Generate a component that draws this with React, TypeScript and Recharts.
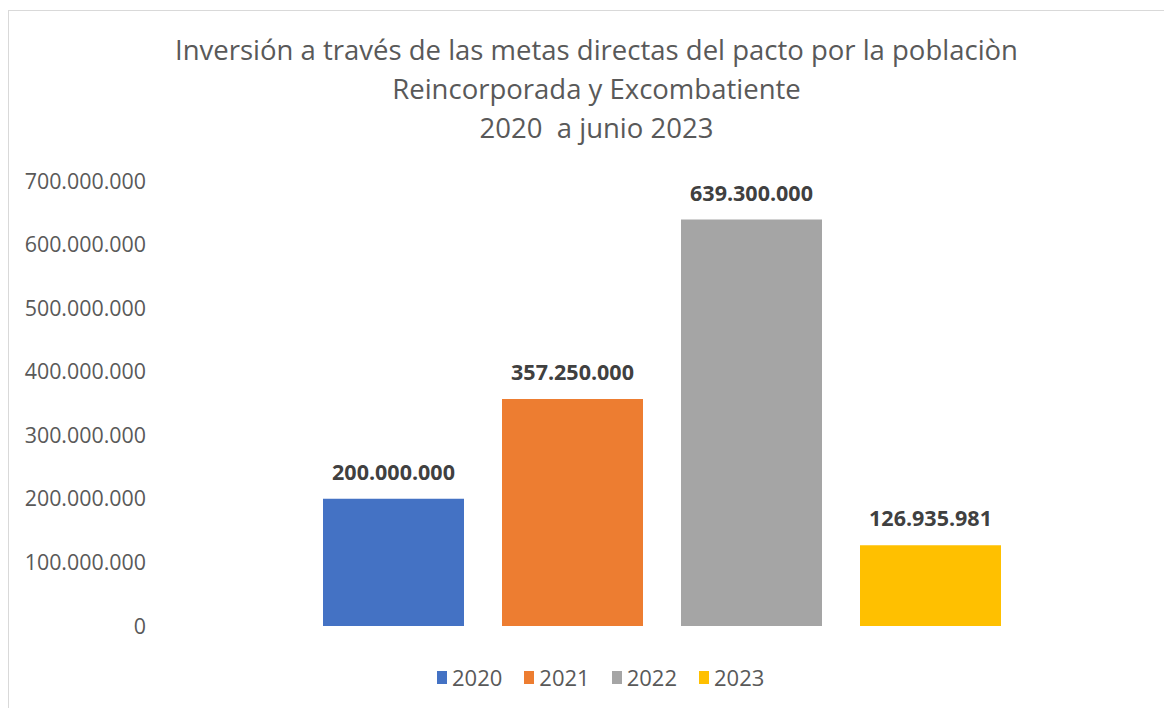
import React from "react";
import { BarChart, Bar, XAxis, YAxis, LabelList } from "recharts";

const years = ["2020", "2021", "2022", "2023"];
const values = [200000000, 357250000, 639300000, 126935981];
const colors = ["#4472C4", "#ED7D31", "#A5A5A5", "#FFC000"];
const yTicks = [0, 100000000, 200000000, 300000000, 400000000, 500000000, 600000000, 700000000];
const titleLines = [
  "Inversión a través de las metas directas del pacto por la poblaciòn",
  "Reincorporada y Excombatiente",
  "2020  a junio 2023",
];

const row: Record<string, number | string> = { name: "" };
years.forEach((y, i) => {
  row["y" + y] = values[i];
});
const data = [row];

const fmt = (v: number) => Math.round(v).toString().replace(/\B(?=(\d{3})+(?!\d))/g, ".");

const FONT = "'Open Sans', 'Noto Sans', sans-serif";

const LegendBox = () => (
  <div
    style={{
      position: "absolute",
      left: 428,
      top: 651,
      display: "flex",
      gap: 22,
      fontFamily: FONT,
      fontSize: 22,
      lineHeight: "30px",
      color: "#595959",
    }}
  >
    {years.map((y, i) => (
      <div key={y} style={{ display: "flex", alignItems: "center" }}>
        <span style={{ display: "inline-block", width: 10, height: 13, background: colors[i], marginRight: 5 }} />
        <span>{y}</span>
      </div>
    ))}
  </div>
);

export default function App() {
  return (
    <div style={{ width: 1164, height: 700, overflow: "hidden", position: "relative" }}>
      <div
        style={{
          position: "absolute",
          left: 0,
          top: 2,
          width: 1200,
          height: 760,
          borderLeft: "1px solid #d9d9d9",
          borderTop: "1px solid #d9d9d9",
          background: "#fff",
        }}
      >
        <div style={{ position: "relative", width: 1163, height: 697 }}>
          <div
            style={{
              position: "absolute",
              left: 6,
              width: 1163,
              top: 19,
              textAlign: "center",
              fontFamily: FONT,
              fontSize: 27.5,
              lineHeight: "39px",
              color: "#595959",
            }}
          >
            {titleLines.map((t, i) => (
              <div key={i} style={{ whiteSpace: "pre" }}>{t}</div>
            ))}
          </div>
          <BarChart
            width={1163}
            height={697}
            data={data}
            margin={{ top: 170, right: 12, bottom: 82, left: 0 }}
            barSize={141}
            barGap={38}
          >
            <XAxis dataKey="name" hide />
            <YAxis
              width={154}
              domain={[0, 700000000]}
              ticks={yTicks}
              tickFormatter={fmt}
              axisLine={false}
              tickLine={false}
              tickSize={0}
              tickMargin={17}
              tick={{ fill: "#595959", fontSize: 21.4, fontFamily: FONT }}
              interval={0}
            />
            {years.map((y, i) => (
              <Bar key={y} dataKey={"y" + y} fill={colors[i]} isAnimationActive={false}>
                <LabelList
                  dataKey={"y" + y}
                  position="top"
                  offset={19}
                  formatter={(v: number) => fmt(v)}
                  style={{ fill: "#404040", fontSize: 21.5, fontWeight: 700, fontFamily: FONT }}
                />
              </Bar>
            ))}
          </BarChart>
          <LegendBox />
        </div>
      </div>
    </div>
  );
}
